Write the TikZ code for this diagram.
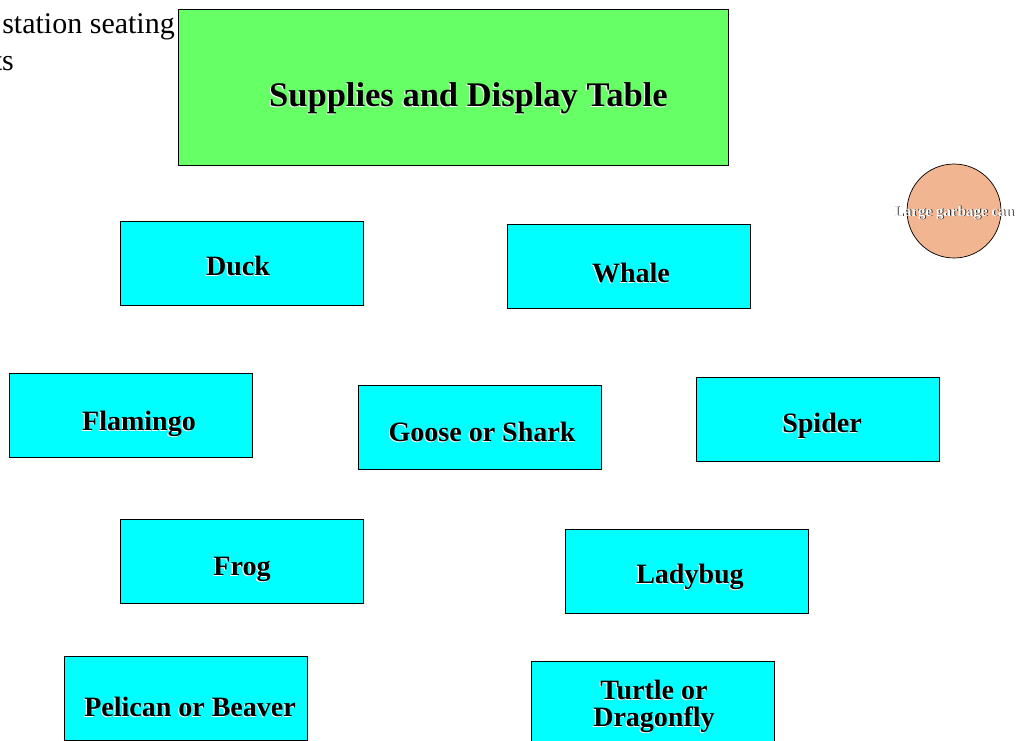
\documentclass[tikz,border=0pt]{standalone}
\usepackage{fontspec}
\setmainfont{Liberation Serif}
\definecolor{tablegreen}{HTML}{66FF66}
\definecolor{seatcyan}{HTML}{00FFFF}
\definecolor{cansalmon}{HTML}{F2B591}
\newcommand\embtext[1]{\leavevmode\rlap{\kern-1.1pt\raisebox{-1.1pt}{\color{white}#1}}#1}
\newcommand\cantext[1]{\leavevmode\rlap{\kern0.8pt\raisebox{-0.8pt}{\color{black}#1}}{\color{white}#1}}
\tikzset{
  seat/.style={draw=black, line width=0.7pt, fill=seatcyan, minimum width=243pt, minimum height=84pt, inner sep=0pt},
  seatlabel/.style={anchor=base, inner sep=0pt, font=\fontsize{28}{28}\selectfont\bfseries},
}
\begin{document}
\begin{tikzpicture}[x=1pt,y=-1pt]
\useasboundingbox (0,0) rectangle (1016,740);
\clip (0,0) rectangle (1016,740);
\fill[white] (0,0) rectangle (1016,740);
% partial title text
\node[anchor=base east, inner sep=0pt, font=\fontsize{30}{30}\selectfont] (t1) at (175,33) {station seating};
\node[anchor=base east, inner sep=0pt, font=\fontsize{30}{30}\selectfont] (t2) at (14,70) {ts};
% supplies table
\node[draw=black, line width=0.7pt, fill=tablegreen, minimum width=550pt, minimum height=156pt, inner sep=0pt] (table) at (453,87) {};
\node[anchor=base, inner sep=0pt, font=\fontsize{34.5}{34.5}\selectfont\bfseries] (tablet) at (468.5,106) {\embtext{Supplies and Display Table}};
% garbage can
\node[circle, draw=black, line width=0.7pt, fill=cansalmon, minimum size=94pt, inner sep=0pt] (can) at (954,211) {};
\node[anchor=base, inner sep=0pt, font=\fontsize{15}{15}\selectfont\bfseries] (cant) at (954,216) {\cantext{Large garbage can}};
% seats
\node[seat] (duck) at (241.5,263) {};
\node[seatlabel] (duckt) at (238,275) {\embtext{Duck}};
\node[seat] (whale) at (628.5,266) {};
\node[seatlabel] (whalet) at (631,282) {\embtext{Whale}};
\node[seat] (flamingo) at (131,415) {};
\node[seatlabel] (flamingot) at (139,430) {\embtext{Flamingo}};
\node[seat] (goose) at (479.5,427) {};
\node[seatlabel] (gooset) at (482,441) {\embtext{Goose or Shark}};
\node[seat] (spider) at (818,419) {};
\node[seatlabel] (spidert) at (822,432) {\embtext{Spider}};
\node[seat] (frog) at (241.5,561) {};
\node[seatlabel] (frogt) at (242,575) {\embtext{Frog}};
\node[seat] (ladybug) at (686.5,571) {};
\node[seatlabel] (ladybugt) at (690,583) {\embtext{Ladybug}};
\node[seat] (pelican) at (185.5,698) {};
\node[seatlabel] (pelicant) at (190,716) {\embtext{Pelican or Beaver}};
\node[seat] (turtle) at (652.5,703) {};
\node[inner sep=0pt, align=center, font=\fontsize{28}{27}\selectfont\bfseries] (turtlet) at (654,707) {\embtext{Turtle or}\\\embtext{Dragonfly}};
\end{tikzpicture}
\end{document}
